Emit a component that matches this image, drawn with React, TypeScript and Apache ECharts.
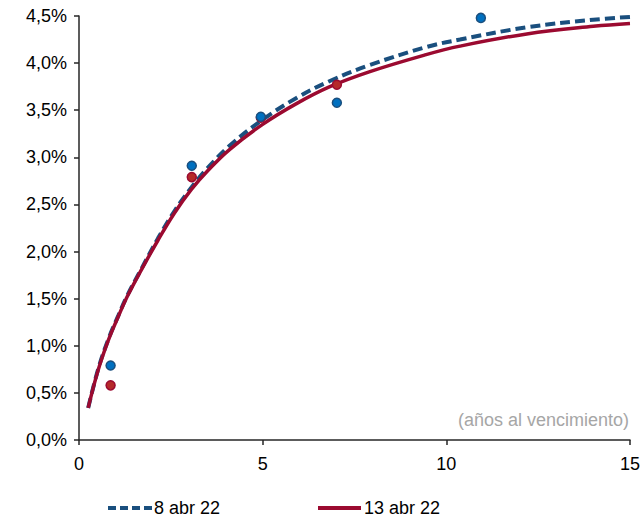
import React, { useEffect, useRef } from "react";
import * as echarts from "echarts";

const curveX = [0.25, 0.52, 0.8, 1.07, 1.31, 1.69, 2.15, 2.6, 3.06, 3.51, 4.09, 5.0, 5.92, 6.83, 7.92, 9.45, 10.37, 12.19, 14.0, 15];
const curveApr8 = [0.34, 0.75, 1.07, 1.32, 1.53, 1.81, 2.14, 2.43, 2.68, 2.89, 3.12, 3.4, 3.63, 3.81, 3.98, 4.17, 4.25, 4.38, 4.46, 4.49];
const curveApr13 = [0.34, 0.74, 1.06, 1.31, 1.52, 1.8, 2.12, 2.41, 2.66, 2.86, 3.08, 3.35, 3.57, 3.75, 3.91, 4.09, 4.18, 4.31, 4.39, 4.42];

const obsApr8X = [0.86, 3.07, 4.95, 7.02, 10.94];
const obsApr8Y = [0.79, 2.91, 3.43, 3.58, 4.48];
const obsApr13X = [0.86, 3.07, 4.95, 7.02];
const obsApr13Y = [0.58, 2.79, 3.42, 3.77];

const seriesNames = ["8 abr 22", "13 abr 22"];
const xTitle = "(años al vencimiento)";

const FONT = "Liberation Sans, Arial, sans-serif";
const BLUE = "#1A4F7E";
const RED = "#9B0A30";

export default function App() {
  const ref = useRef<HTMLDivElement>(null);
  useEffect(() => {
    if (!ref.current) return;
    const chart = echarts.init(ref.current, null, { renderer: "svg" });
    const zip = (xs: number[], ys: number[]) => xs.map((x, i) => [x, ys[i]]);
    chart.setOption({
      animation: false,
      backgroundColor: "#ffffff",
      textStyle: { fontFamily: FONT },
      grid: { left: 79, right: 13, top: 16, bottom: 81, containLabel: false },
      xAxis: {
        type: "value",
        min: 0,
        max: 15,
        interval: 5,
        axisLine: { show: true, lineStyle: { color: "#262626", width: 1.5 } },
        axisTick: { show: true, inside: false, length: 5, lineStyle: { color: "#262626", width: 1.5 } },
        axisLabel: { color: "#000", fontSize: 18, margin: 15, fontFamily: FONT },
        splitLine: { show: false },
      },
      yAxis: {
        type: "value",
        min: 0,
        max: 4.5,
        interval: 0.5,
        axisLine: { show: true, lineStyle: { color: "#262626", width: 1.5 } },
        axisTick: { show: true, inside: false, length: 5, lineStyle: { color: "#262626", width: 1.5 } },
        axisLabel: {
          color: "#000",
          fontSize: 18,
          margin: 12,
          fontFamily: FONT,
          formatter: (v: number) => v.toFixed(1).replace(".", ",") + "%",
        },
        splitLine: { show: false },
      },
      graphic: [
        {
          type: "text",
          right: 14,
          top: 411,
          style: { text: xTitle, fill: "#A6A6A6", font: `18px ${FONT}` },
        },
        {
          type: "line",
          shape: { x1: 108, y1: 508, x2: 152, y2: 508 },
          style: { stroke: BLUE, lineWidth: 4, lineDash: [8, 4] },
        },
        {
          type: "text",
          x: 154,
          y: 508,
          style: { text: seriesNames[0], fill: "#000", font: `18px ${FONT}`, verticalAlign: "middle" },
        },
        {
          type: "line",
          shape: { x1: 318, y1: 508, x2: 361, y2: 508 },
          style: { stroke: RED, lineWidth: 4 },
        },
        {
          type: "text",
          x: 364,
          y: 508,
          style: { text: seriesNames[1], fill: "#000", font: `18px ${FONT}`, verticalAlign: "middle" },
        },
      ],
      series: [
        {
          name: seriesNames[0],
          type: "line",
          data: zip(curveX, curveApr8),
          smooth: 0.4,
          showSymbol: false,
          symbol: "none",
          lineStyle: { color: BLUE, width: 4, type: [10, 5] },
          itemStyle: { color: BLUE },
          z: 2,
        },
        {
          name: seriesNames[1],
          type: "line",
          data: zip(curveX, curveApr13),
          smooth: 0.4,
          showSymbol: false,
          symbol: "none",
          lineStyle: { color: RED, width: 3.5 },
          itemStyle: { color: RED },
          z: 3,
        },
        {
          name: "obs13",
          type: "scatter",
          data: zip(obsApr13X, obsApr13Y),
          symbolSize: 9,
          itemStyle: { color: "#B52A2A", borderColor: RED, borderWidth: 1.5, opacity: 1 },
          z: 4,
        },
        {
          name: "obs8",
          type: "scatter",
          data: zip(obsApr8X, obsApr8Y),
          symbolSize: 9,
          itemStyle: { color: "#0070C0", borderColor: BLUE, borderWidth: 1.5, opacity: 1 },
          z: 5,
        },
      ],
    });
    return () => chart.dispose();
  }, []);
  return (
    <div
      ref={ref}
      style={{ position: "fixed", left: 0, top: 0, width: 643, height: 521, background: "#fff" }}
    />
  );
}
